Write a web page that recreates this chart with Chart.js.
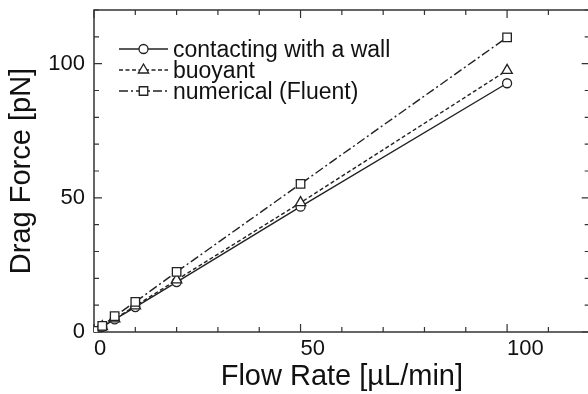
<!DOCTYPE html>
<html>
<head>
<meta charset="utf-8">
<script src="https://cdn.jsdelivr.net/npm/chart.js@4"></script>
<style>
  html, body { margin: 0; padding: 0; background: #fff; overflow: hidden; }
  #wrap { width: 597px; height: 394px; }
</style>
</head>
<body>
<div id="wrap"><canvas id="dragChart" width="597" height="394"></canvas></div>
<script>
// flow rate in uL/min
const flowRates = [0, 2, 5, 10, 20, 50, 100];
// drag force in pN
const contactWall = [0, 1.9, 4.7, 9.3, 18.6, 46.7, 92.7];
const buoyant = [0, 2.0, 4.9, 9.7, 19.4, 48.2, 97.5];
const numerical = [0.4, 2.3, 5.9, 11.2, 22.4, 55.2, 109.8];
const seriesNames = ['contacting with a wall', 'buoyant', 'numerical (Fluent)'];
const majorLabelsX = [0, 50, 100];
const majorLabelsY = [0, 50, 100];

const FONT = 'Liberation Sans, Arial, Helvetica, sans-serif';
const INK = '#222';

function toPoints(ys) {
    return flowRates.map((x, i) => ({ x: x, y: ys[i] }));
}

function makeDataset(label, ys, style, dash, radius, order) {
    return {
        label: label,
        data: toPoints(ys),
        borderColor: INK,
        borderWidth: 1.4,
        borderDash: dash,
        pointStyle: style,
        pointRadius: radius,
        pointBorderWidth: 1.3,
        pointBorderColor: INK,
        pointBackgroundColor: '#fff',
        fill: false,
        tension: 0,
        order: order
    };
}

/**
 * Draws the frame with inward ticks on all four sides.
 */
const frameTicks = {
    id: 'frameTicks',
    beforeDatasetsDraw(chart) {
        const { ctx, chartArea: a, scales: { x, y } } = chart;
        ctx.save();
        ctx.strokeStyle = '#333';
        ctx.lineWidth = 1.5;
        ctx.strokeRect(a.left, a.top, a.right - a.left, a.bottom - a.top);
        ctx.lineWidth = 1.2;
        ctx.beginPath();
        for (let v = 0; v <= 120; v += 10) {
            const len = v % 50 === 0 ? 8 : 5;
            const px = x.getPixelForValue(v);
            ctx.moveTo(px, a.bottom); ctx.lineTo(px, a.bottom - len);
            ctx.moveTo(px, a.top); ctx.lineTo(px, a.top + len);
            const py = y.getPixelForValue(v);
            ctx.moveTo(a.left, py); ctx.lineTo(a.left + len, py);
            ctx.moveTo(a.right, py); ctx.lineTo(a.right - len, py);
        }
        ctx.stroke();
        ctx.restore();
    }
};

function drawMarker(ctx, style, cx, cy, r) {
    ctx.beginPath();
    if (style === 'circle') {
        ctx.arc(cx, cy, r, 0, Math.PI * 2);
    } else if (style === 'triangle') {
        let rad = 0;
        ctx.moveTo(cx + Math.sin(rad) * r, cy - Math.cos(rad) * r);
        rad += Math.PI * 2 / 3;
        ctx.lineTo(cx + Math.sin(rad) * r, cy - Math.cos(rad) * r);
        rad += Math.PI * 2 / 3;
        ctx.lineTo(cx + Math.sin(rad) * r, cy - Math.cos(rad) * r);
        ctx.closePath();
    } else {
        const h = r * Math.SQRT1_2;
        ctx.rect(cx - h, cy - h, 2 * h, 2 * h);
    }
    ctx.fill();
    ctx.stroke();
}

/**
 * Legend in the upper left: line sample, marker, label.
 */
const lineLegend = {
    id: 'lineLegend',
    afterDatasetsDraw(chart) {
        const { ctx } = chart;
        const x0 = 119, x1 = 168, textX = 173;
        const rows = [49, 70, 91];
        ctx.save();
        chart.data.datasets.forEach((ds, i) => {
            const yy = rows[i];
            ctx.strokeStyle = INK;
            ctx.lineWidth = 1.4;
            ctx.setLineDash(ds.borderDash || []);
            ctx.beginPath();
            ctx.moveTo(x0, yy);
            ctx.lineTo(x1, yy);
            ctx.stroke();
            ctx.setLineDash([]);
            ctx.fillStyle = '#fff';
            ctx.lineWidth = 1.3;
            drawMarker(ctx, ds.pointStyle, (x0 + x1) / 2, yy, ds.pointRadius);
            ctx.fillStyle = '#111';
            ctx.font = '23px ' + FONT;
            ctx.textBaseline = 'alphabetic';
            ctx.textAlign = 'left';
            ctx.fillText(ds.label, textX, yy + 8);
        });
        ctx.restore();
    }
};

const ctx = document.getElementById('dragChart').getContext('2d');

new Chart(ctx, {
    type: 'line',
    data: {
        datasets: [
            makeDataset(seriesNames[0], contactWall, 'circle', [], 4.5, 3),
            makeDataset(seriesNames[1], buoyant, 'triangle', [4, 2.5], 6, 2),
            makeDataset(seriesNames[2], numerical, 'rect', [9, 3, 2, 3], 6, 1)
        ]
    },
    options: {
        responsive: false,
        animation: false,
        layout: { padding: { top: 10, right: 0, left: 0, bottom: 0 } },
        plugins: {
            legend: { display: false },
            tooltip: { enabled: false }
        },
        scales: {
            x: {
                type: 'linear',
                min: 0,
                max: 120,
                afterFit(scale) {
                    scale.height = 62;
                    scale.paddingLeft = 0;
                    scale.paddingRight = 0;
                },
                grid: { display: false, drawTicks: false },
                border: { display: false },
                ticks: {
                    stepSize: 10,
                    autoSkip: false,
                    maxRotation: 0,
                    align: 'start',
                    padding: 4,
                    color: '#111',
                    font: { family: FONT, size: 22 },
                    callback: (v) => majorLabelsX.includes(v) ? String(v) : ''
                },
                title: {
                    display: true,
                    text: 'Flow Rate [\u00B5L/min]',
                    color: '#111',
                    font: { family: FONT, size: 29 },
                    padding: { top: 0, bottom: 0 }
                }
            },
            y: {
                min: 0,
                max: 120,
                afterFit(scale) {
                    scale.width = 94;
                    scale.paddingTop = 0;
                    scale.paddingBottom = 0;
                },
                grid: { display: false, drawTicks: false },
                border: { display: false },
                ticks: {
                    stepSize: 10,
                    autoSkip: false,
                    padding: 9,
                    color: '#111',
                    font: { family: FONT, size: 22 },
                    callback: (v) => majorLabelsY.includes(v) ? String(v) : ''
                },
                title: {
                    display: true,
                    text: 'Drag Force [pN]',
                    color: '#111',
                    font: { family: FONT, size: 29 },
                    padding: { top: 5, bottom: 0 }
                }
            }
        }
    },
    plugins: [frameTicks, lineLegend]
});
</script>
</body>
</html>
